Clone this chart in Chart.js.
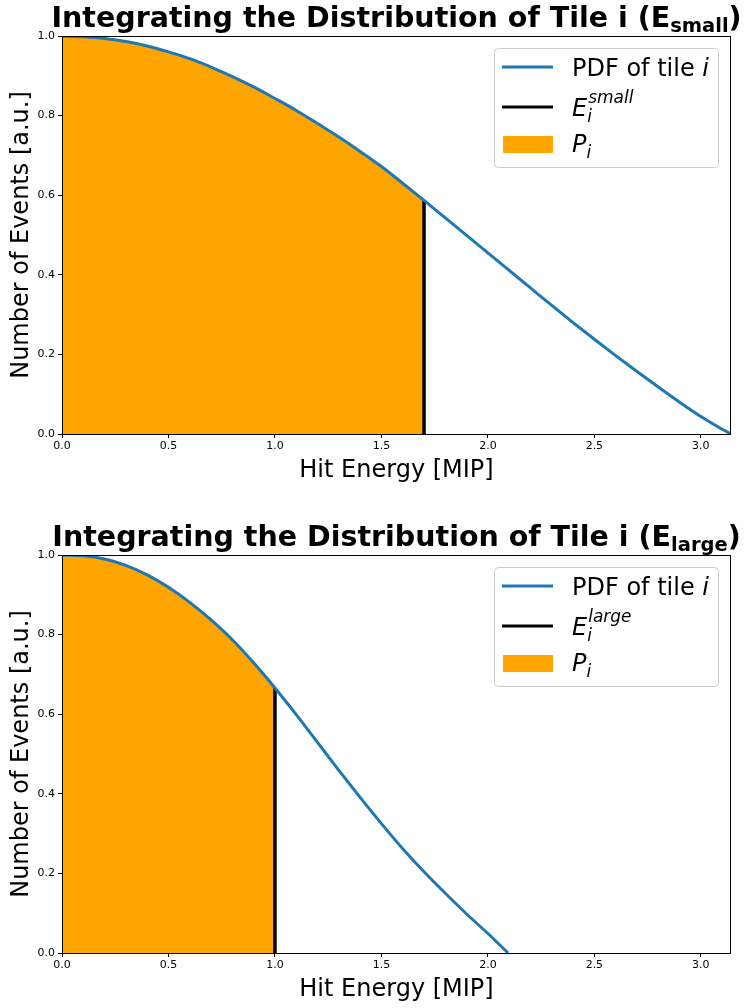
<!DOCTYPE html>
<html>
<head>
<meta charset="utf-8">
<script src="https://cdn.jsdelivr.net/npm/chart.js@4.4.1/dist/chart.umd.min.js"></script>
<style>
  body { margin: 0; background: #fff; }
  .box { position: relative; width: 747px; height: 504px; }
</style>
</head>
<body>
<div class="box"><canvas id="topChart" width="747" height="504"></canvas></div>
<div class="box"><canvas id="bottomChart" width="747" height="504"></canvas></div>
<script>
//DATA
var energySmall = [0, 0.1, 0.2, 0.3, 0.4, 0.5, 0.6, 0.7, 0.8, 0.9, 1.0, 1.1, 1.2, 1.3, 1.4, 1.5, 1.6,
  1.7, 1.8, 1.9, 2.0, 2.1, 2.2, 2.3, 2.4, 2.5, 2.6, 2.7, 2.8, 2.9, 3.0, 3.1, 3.1416];
var pdfSmall = [1.000, 0.998, 0.994, 0.986, 0.975, 0.960, 0.943, 0.922, 0.898, 0.872, 0.843, 0.813, 0.780,
  0.746, 0.710, 0.672, 0.630, 0.587, 0.543, 0.499, 0.455, 0.411, 0.367, 0.323, 0.280, 0.238, 0.197, 0.157,
  0.118, 0.080, 0.044, 0.012, 0.0];
var cutSmall = 1.7;

var energyLarge = [0, 0.1, 0.2, 0.3, 0.4, 0.5, 0.6, 0.7, 0.8, 0.9, 1.0, 1.1, 1.2, 1.3, 1.4, 1.5, 1.6,
  1.7, 1.8, 1.9, 2.0, 2.095];
var pdfLarge = [1.000, 0.998, 0.990, 0.974, 0.950, 0.919, 0.881, 0.837, 0.787, 0.729, 0.666, 0.599, 0.529,
  0.459, 0.391, 0.325, 0.262, 0.204, 0.150, 0.098, 0.049, 0.0];
var cutLarge = 1.0;

var xTicks = [0, 0.5, 1.0, 1.5, 2.0, 2.5, 3.0];
var yTicks = [0, 0.2, 0.4, 0.6, 0.8, 1.0];

//COLORS
var blue = "#1f77b4";
var orange = "#ffa500";
var black = "#000000";
var font = '"DejaVu Sans"';

function points(xs, ys, upTo) {
  var out = [];
  for (var i = 0; i < xs.length; i++) {
    if (upTo === undefined || xs[i] <= upTo + 1e-9) out.push({ x: xs[i], y: ys[i] });
  }
  return out;
}

// draw a row of text pieces, returns the width
function textRun(ctx, parts, x, y, measureOnly) {
  var w = 0;
  parts.forEach(function (p) {
    ctx.font = p.f;
    if (!measureOnly) ctx.fillText(p.t, x + w, y + (p.dy || 0));
    w += ctx.measureText(p.t).width;
  });
  return w;
}

//Plugin: frame, title, axis labels and legend
var decor = {
  id: "decor",
  afterDraw: function (chart, args, opts) {
    var ctx = chart.ctx, a = chart.chartArea;
    ctx.save();
    ctx.strokeStyle = black;
    ctx.lineWidth = 1;
    ctx.strokeRect(Math.round(a.left) + 0.5, Math.round(a.top) + 0.5,
      Math.round(a.right - a.left) - 1, Math.round(a.bottom - a.top));
    ctx.fillStyle = black;
    ctx.textBaseline = "alphabetic";
    ctx.textAlign = "left";

    // title
    var cx = (a.left + a.right) / 2;
    var title = [
      { t: "Integrating the Distribution of Tile i (E", f: "bold 28.5px " + font },
      { t: opts.tag, f: "bold 19.5px " + font, dy: 5 },
      { t: ")", f: "bold 28.5px " + font }
    ];
    var tw = textRun(ctx, title, 0, 0, true);
    textRun(ctx, title, cx - tw / 2, a.top - 9);

    // axis labels
    ctx.font = "24px " + font;
    ctx.textAlign = "center";
    ctx.fillText("Hit Energy [MIP]", cx, a.bottom + 43);
    ctx.save();
    ctx.translate(28, (a.top + a.bottom) / 2);
    ctx.rotate(-Math.PI / 2);
    ctx.fillText("Number of Events [a.u.]", 0, 0);
    ctx.restore();
    ctx.textAlign = "left";

    // legend
    var bw = 224, bh = 119;
    var bx = a.right - 13 - bw, by = a.top + 12;
    ctx.beginPath();
    ctx.roundRect(bx + 0.5, by + 0.5, bw, bh, 4);
    ctx.fillStyle = "rgba(255,255,255,0.8)";
    ctx.fill();
    ctx.strokeStyle = "#cccccc";
    ctx.stroke();

    var hx0 = bx + 8, hx1 = bx + 59, tx = bx + 78;
    ctx.lineWidth = 3;
    ctx.strokeStyle = blue;
    ctx.beginPath(); ctx.moveTo(hx0, by + 19); ctx.lineTo(hx1, by + 19); ctx.stroke();
    ctx.strokeStyle = black;
    ctx.beginPath(); ctx.moveTo(hx0, by + 59); ctx.lineTo(hx1, by + 59); ctx.stroke();
    ctx.fillStyle = orange;
    ctx.fillRect(hx0 + 1, by + 88, hx1 - hx0 - 1, 17);

    ctx.fillStyle = black;
    textRun(ctx, [
      { t: "PDF of tile ", f: "24px " + font },
      { t: "i", f: "italic 24px " + font }
    ], tx, by + 28);
    ctx.font = "italic 24px " + font;
    ctx.fillText("E", tx, by + 68);
    var ew = ctx.measureText("E").width;
    ctx.font = "italic 17px " + font;
    ctx.fillText("i", tx + ew, by + 74);
    ctx.fillText(opts.tag, tx + ew + 1, by + 55);
    ctx.font = "italic 24px " + font;
    ctx.fillText("P", tx, by + 104);
    var pw = ctx.measureText("P").width;
    ctx.font = "italic 17px " + font;
    ctx.fillText("i", tx + pw, by + 110);
    ctx.restore();
  }
};

function makeChart(id, xs, ys, cut, tag, padTop, xHeight) {
  var cutIdx = xs.indexOf(cut);
  var config = {
    type: "line",
    data: {
      datasets: [
        {
          label: "PDF of tile i",
          data: points(xs, ys),
          borderColor: blue,
          borderWidth: 3,
          pointRadius: 0,
          cubicInterpolationMode: "monotone",
          fill: false,
          order: 0
        },
        {
          label: "E_i^" + tag,
          data: [{ x: cut, y: 0 }, { x: cut, y: ys[cutIdx] }],
          borderColor: black,
          borderWidth: 3.5,
          pointRadius: 0,
          fill: false,
          order: 1
        },
        {
          label: "P_i",
          data: points(xs, ys, cut),
          borderWidth: 0,
          borderColor: orange,
          backgroundColor: orange,
          pointRadius: 0,
          cubicInterpolationMode: "monotone",
          fill: "origin",
          order: 2
        }
      ]
    },
    options: {
      responsive: false,
      animation: false,
      layout: { padding: { top: padTop, right: 16, left: 0, bottom: 0 } },
      plugins: {
        legend: { display: false },
        tooltip: { enabled: false },
        decor: { tag: tag }
      },
      scales: {
        x: {
          type: "linear",
          min: 0,
          max: Math.PI,
          afterBuildTicks: function (s) { s.ticks = xTicks.map(function (v) { return { value: v }; }); },
          afterFit: function (s) { s.height = xHeight; },
          border: { display: false },
          grid: { drawOnChartArea: false, drawTicks: true, tickLength: 4, tickColor: black },
          ticks: {
            color: black,
            padding: 2,
            maxRotation: 0,
            font: { family: "DejaVu Sans", size: 11 },
            callback: function (v) { return Number(v).toFixed(1); }
          }
        },
        y: {
          min: 0,
          max: 1,
          afterBuildTicks: function (s) { s.ticks = yTicks.map(function (v) { return { value: v }; }); },
          afterFit: function (s) { s.width = 62; },
          border: { display: false },
          grid: { drawOnChartArea: false, drawTicks: true, tickLength: 4, tickColor: black },
          ticks: {
            color: black,
            padding: 3,
            font: { family: "DejaVu Sans", size: 11 },
            callback: function (v) { return Number(v).toFixed(1); }
          }
        }
      }
    },
    plugins: [decor]
  };
  return new Chart(document.getElementById(id), config);
}

var topChart = makeChart("topChart", energySmall, pdfSmall, cutSmall, "small", 36, 70);
var bottomChart = makeChart("bottomChart", energyLarge, pdfLarge, cutLarge, "large", 51, 55);
</script>
</body>
</html>
